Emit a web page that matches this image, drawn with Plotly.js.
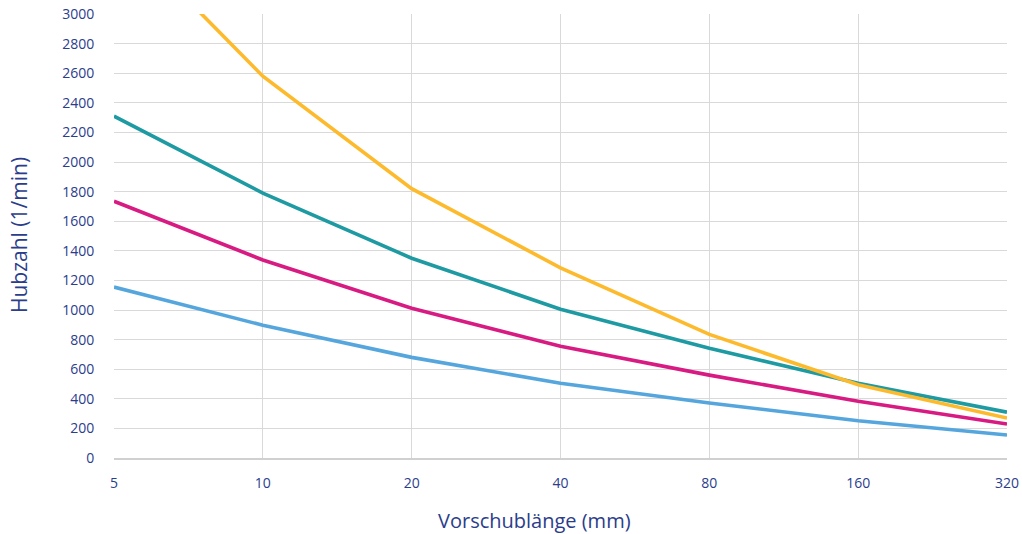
<!DOCTYPE html>
<html>
<head>
<meta charset="utf-8">
<script src="https://cdn.plot.ly/plotly-3.0.1.min.js"></script>
<style>html,body{margin:0;padding:0;background:#fff;}#chart{width:1022px;height:534px;}</style>
</head>
<body>
<div id="chart"></div>
<script>
const strokeLengths = [5, 10, 20, 40, 80, 160, 320];
const tickLabels = ["5", "10", "20", "40", "80", "160", "320"];
const seriesYellow = [3600, 2580, 1820, 1285, 835, 495, 270];
const seriesTeal = [2310, 1790, 1350, 1005, 742, 505, 310];
const seriesMagenta = [1735, 1338, 1012, 755, 560, 383, 230];
const seriesBlue = [1155, 897, 680, 505, 372, 252, 155];

const textColor = "#2B3D8B";
function line(y, color) {
  return {x: strokeLengths, y: y, type: "scatter", mode: "lines",
    line: {color: color, width: 3.6}, hoverinfo: "x+y"};
}
const data = [
  line(seriesBlue, "#56A6DE"),
  line(seriesMagenta, "#D81B82"),
  line(seriesTeal, "#1E9AA2"),
  line(seriesYellow, "#FDBA2C")
];
const layout = {
  width: 1022, height: 534,
  margin: {l: 114, r: 15, t: 14, b: 76},
  paper_bgcolor: "#fff", plot_bgcolor: "#fff",
  showlegend: false,
  font: {family: "Open Sans, sans-serif", color: textColor, size: 14},
  xaxis: {
    type: "log",
    range: [Math.log10(5), Math.log10(320)],
    tickvals: strokeLengths, ticktext: tickLabels,
    showgrid: true, gridcolor: "#D9D9D9", gridwidth: 1,
    showline: true, linecolor: "#D0D0D0", linewidth: 2,
    ticks: "outside", ticklen: 11, tickcolor: "rgba(0,0,0,0)",
    tickfont: {size: 14, color: textColor},
    zeroline: false
  },
  yaxis: {
    range: [0, 3000], dtick: 200,
    showgrid: true, gridcolor: "#D9D9D9", gridwidth: 1,
    showline: false,
    ticks: "outside", ticklen: 16, tickcolor: "rgba(0,0,0,0)",
    tickfont: {size: 14, color: textColor},
    zeroline: false
  },
  annotations: [
    {text: "Vorschublänge (mm)", xref: "paper", yref: "paper", x: (534 - 114) / 893, y: -(520 - 458) / 444,
     xanchor: "center", yanchor: "middle", showarrow: false, font: {size: 20, color: textColor}},
    {text: "Hubzahl (1/min)", xref: "paper", yref: "paper", x: (19 - 114) / 893, y: (458 - 235) / 444,
     xanchor: "center", yanchor: "middle", textangle: -90, showarrow: false, font: {size: 21, color: textColor}}
  ]
};
Plotly.newPlot("chart", data, layout, {displayModeBar: false, staticPlot: true});
</script>
</body>
</html>
